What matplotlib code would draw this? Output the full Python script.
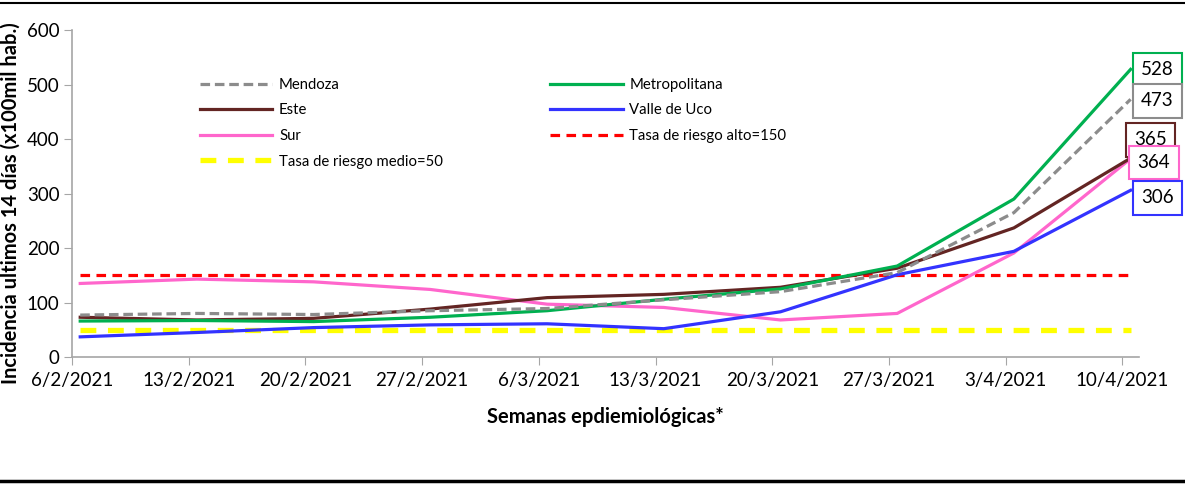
import numpy as np
import matplotlib
matplotlib.use("Agg")
import matplotlib.pyplot as plt
from matplotlib.lines import Line2D

plt.rcParams["font.family"] = ["Lato", "DejaVu Sans"]

fechas = ["6/2/2021", "13/2/2021", "20/2/2021", "27/2/2021", "6/3/2021",
          "13/3/2021", "20/3/2021", "27/3/2021", "3/4/2021", "10/4/2021"]

mendoza = [77, 80, 78, 85, 89, 105, 120, 155, 265, 473]
metropolitana = [66, 67, 65, 73, 85, 106, 125, 167, 290, 528]
este = [73, 68, 71, 88, 109, 115, 128, 163, 237, 365]
valle_uco = [37, 45, 54, 59, 61, 52, 83, 151, 194, 306]
sur = [135, 143, 138, 124, 97, 91, 68, 80, 191, 364]
riesgo_alto = 150
riesgo_medio = 50

x = np.arange(len(fechas)) + 0.07

fig = plt.figure(figsize=(11.85, 4.86), dpi=100)
ax = fig.add_axes([0.0608, 0.2654, 0.9002, 0.6726])

gris = "#8c8c8c"
verde = "#00b050"
marron = "#632523"
azul = "#3333ff"
rosa = "#ff66cc"

ax.plot(x, [riesgo_medio] * len(x), color="#ffff00", lw=3.8, ls=(0, (3, 2.2)), zorder=2)
ax.plot(x, [riesgo_alto] * len(x), color="#ff0000", lw=2.3, ls=(0, (3, 2)), zorder=2)
ax.plot(x, sur, color=rosa, lw=2.3, zorder=3)
ax.plot(x, valle_uco, color=azul, lw=2.3, zorder=3)
ax.plot(x, este, color=marron, lw=2.3, zorder=4)
ax.plot(x, metropolitana, color=verde, lw=2.3, zorder=4)
ax.plot(x, mendoza, color=gris, lw=2.3, ls=(0, (3, 1.5)), zorder=5)

ax.set_xlim(0, 9.14)
ax.set_ylim(0, 600)
ax.set_xticks(np.arange(len(fechas)))
ax.set_xticklabels(fechas, fontsize=13.5)
ax.set_yticks([0, 100, 200, 300, 400, 500, 600])
ax.tick_params(axis="y", labelsize=13.5, length=6, color="#a6a6a6", pad=3)
ax.tick_params(axis="x", length=6, color="#a6a6a6", pad=5)
for s in ["top", "right"]:
    ax.spines[s].set_visible(False)
for s in ["left", "bottom"]:
    ax.spines[s].set_color("#a6a6a6")
    ax.spines[s].set_linewidth(1.2)

ax.set_xlabel("Semanas epdiemiológicas*", fontsize=14.5, fontweight="bold", labelpad=13)
ax.set_ylabel("Incidencia ultimos 14 días (x100mil hab.)", fontsize=14.5,
              fontweight="bold", labelpad=-17)
ax.yaxis.set_label_coords(-0.048, 0.47)

# etiquetas de los valores finales
finales = [metropolitana[-1], mendoza[-1], este[-1], sur[-1], valle_uco[-1]]
colores = [verde, gris, marron, rosa, azul]
pos_x = [9.30, 9.30, 9.24, 9.27, 9.30]
pos_y = [527, 470, 399, 357, 292]
for v, c, px, py in zip(finales, colores, pos_x, pos_y):
    ax.text(px, py, str(v), fontsize=13.5, ha="center", va="center", clip_on=False,
            bbox=dict(boxstyle="square,pad=0.45", fc="white", ec=c, lw=1.5), zorder=10)

handles = [
    Line2D([], [], color=gris, lw=2.3, ls=(0, (3, 1.5))),
    Line2D([], [], color=marron, lw=2.3),
    Line2D([], [], color=rosa, lw=2.3),
    Line2D([], [], color="#ffff00", lw=3.8, ls=(0, (3, 2.2))),
    Line2D([], [], color=verde, lw=2.3),
    Line2D([], [], color=azul, lw=2.3),
    Line2D([], [], color="#ff0000", lw=2.3, ls=(0, (3, 2))),
]
labels = ["Mendoza", "Este", "Sur", "Tasa de riesgo medio=50",
          "Metropolitana", "Valle de Uco", "Tasa de riesgo alto=150"]
leg = ax.legend(handles, labels, ncol=2, loc="upper left", bbox_to_anchor=(0.107, 0.895),
                frameon=False, fontsize=10.7, handlelength=4.9, handletextpad=0.45,
                columnspacing=7.2, labelspacing=0.78)

# lineas de borde de pagina
fig.add_artist(Line2D([0, 1], [0.993, 0.993], color="black", lw=1.5))
fig.add_artist(Line2D([0, 1], [0.01, 0.01], color="black", lw=2.5))

fig.savefig("out.png", dpi=100)
